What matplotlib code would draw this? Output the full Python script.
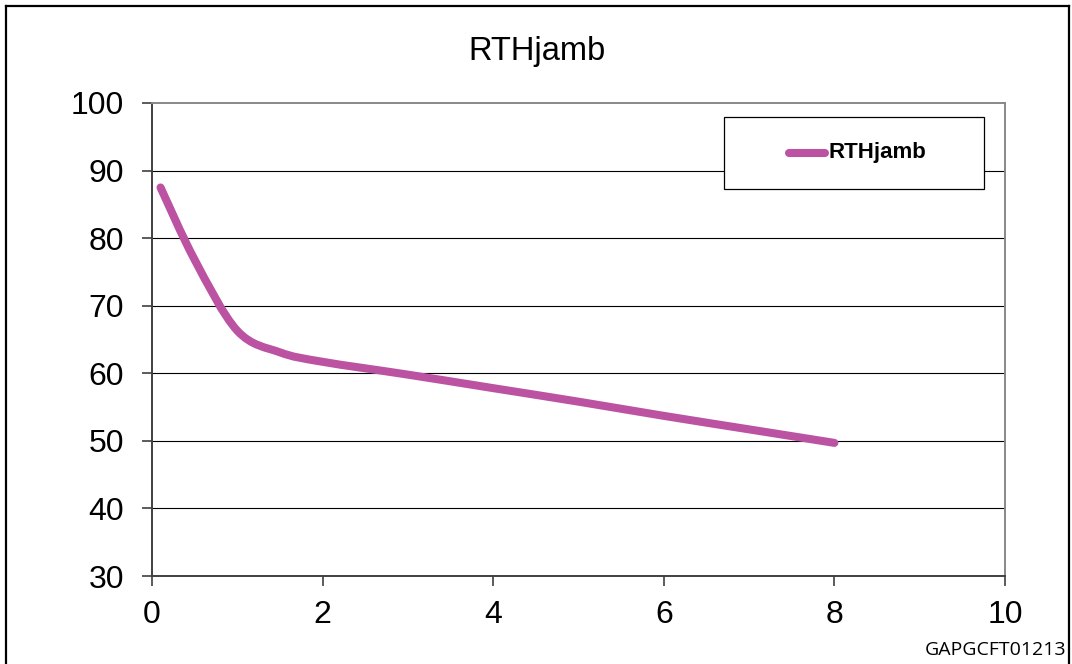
import matplotlib
matplotlib.use("Agg")
import matplotlib.pyplot as plt
from matplotlib.path import Path
from matplotlib.patches import PathPatch, Rectangle
from matplotlib.lines import Line2D
import numpy as np

# ---- data ----
series_name = "RTHjamb"
x_vals = [0.1, 0.5, 1.0, 1.5, 2.0, 3.0, 4.0, 5.0, 6.0, 7.0, 8.0]
y_vals = [87.5, 76.8, 66.3, 63.1, 61.7, 59.8, 57.8, 55.8, 53.7, 51.7, 49.7]
x_ticks = [0, 2, 4, 6, 8, 10]
y_ticks = [30, 40, 50, 60, 70, 80, 90, 100]
title_text = "RTHjamb"
code_text = "GAPGCFT01213"

LINE_COLOR = "#BB53A2"
W, H = 1072, 664
fig = plt.figure(figsize=(W / 100, H / 100), dpi=100)
plt.rcParams["font.family"] = ["Liberation Sans", "DejaVu Sans"]

ax = fig.add_axes([152 / W, 1 - 576 / H, (1005 - 152) / W, (576 - 103) / H])
ax.set_xlim(0, 10)
ax.set_ylim(30, 100)
ax.set_xticks(x_ticks)
ax.set_yticks(y_ticks)
ax.tick_params(axis="both", direction="out", length=7, width=1.2, color="#404040",
               labelsize=23, labelcolor="black")
ax.tick_params(axis="y", pad=13)
ax.tick_params(axis="x", pad=10)

ax.yaxis.grid(True, color="black", linewidth=0.8, zorder=0)
ygl = ax.get_ygridlines()
ygl[0].set_visible(False)
ygl[-1].set_visible(False)
ax.set_axisbelow(True)

for s in ("top", "right"):
    ax.spines[s].set_color("#888888")
    ax.spines[s].set_linewidth(1.4)
for s in ("left", "bottom"):
    ax.spines[s].set_color("#404040")
    ax.spines[s].set_linewidth(1.4)

# smoothed line (Excel-style Bezier through the data points)
pts = np.column_stack([x_vals, y_vals])
verts = [tuple(pts[0])]
codes = [Path.MOVETO]
n = len(pts)
for i in range(n - 1):
    p0 = pts[i - 1] if i > 0 else pts[i]
    p1 = pts[i]
    p2 = pts[i + 1]
    p3 = pts[i + 2] if i + 2 < n else pts[i + 1]
    c1 = p1 + (p2 - p0) / 6.0
    c2 = p2 - (p3 - p1) / 6.0
    verts += [tuple(c1), tuple(c2), tuple(p2)]
    codes += [Path.CURVE4] * 3
patch = PathPatch(Path(verts, codes), facecolor="none", edgecolor=LINE_COLOR,
                  linewidth=5.8, capstyle="round", joinstyle="round", zorder=3)
ax.add_patch(patch)

# legend box
ax.add_patch(Rectangle((0.6706, 0.8182), 0.3048, 0.1522, transform=ax.transAxes,
                       facecolor="white", edgecolor="black", linewidth=0.9, zorder=4))
ax.add_line(Line2D([(789 - 152) / 853, (825 - 152) / 853], [0.8949, 0.8949],
                   transform=ax.transAxes, color=LINE_COLOR, linewidth=5.8,
                   solid_capstyle="round", zorder=5))
ax.text((828 - 152) / 853, 0.8949, series_name, transform=ax.transAxes, fontsize=16,
        fontweight="bold", va="center", ha="left", zorder=5)

# title
fig.text(537 / W, 1 - 60 / H, title_text, fontsize=23.5, ha="center", va="baseline")

# code label
fig.text(1066 / W, 1 - 655 / H, code_text, fontsize=14, ha="right", va="baseline",
         family=["Open Sans", "DejaVu Sans"])

# outer frame
fig.add_artist(Line2D([6 / W, 6 / W], [1 - 6 / H, -0.1], transform=fig.transFigure,
                      color="black", linewidth=1.6))
fig.add_artist(Line2D([6 / W, 1068.5 / W], [1 - 6 / H, 1 - 6 / H], transform=fig.transFigure,
                      color="black", linewidth=1.6))
fig.add_artist(Line2D([1068.5 / W, 1068.5 / W], [1 - 6 / H, -0.1], transform=fig.transFigure,
                      color="black", linewidth=1.6))

fig.savefig("out.png", dpi=100)
